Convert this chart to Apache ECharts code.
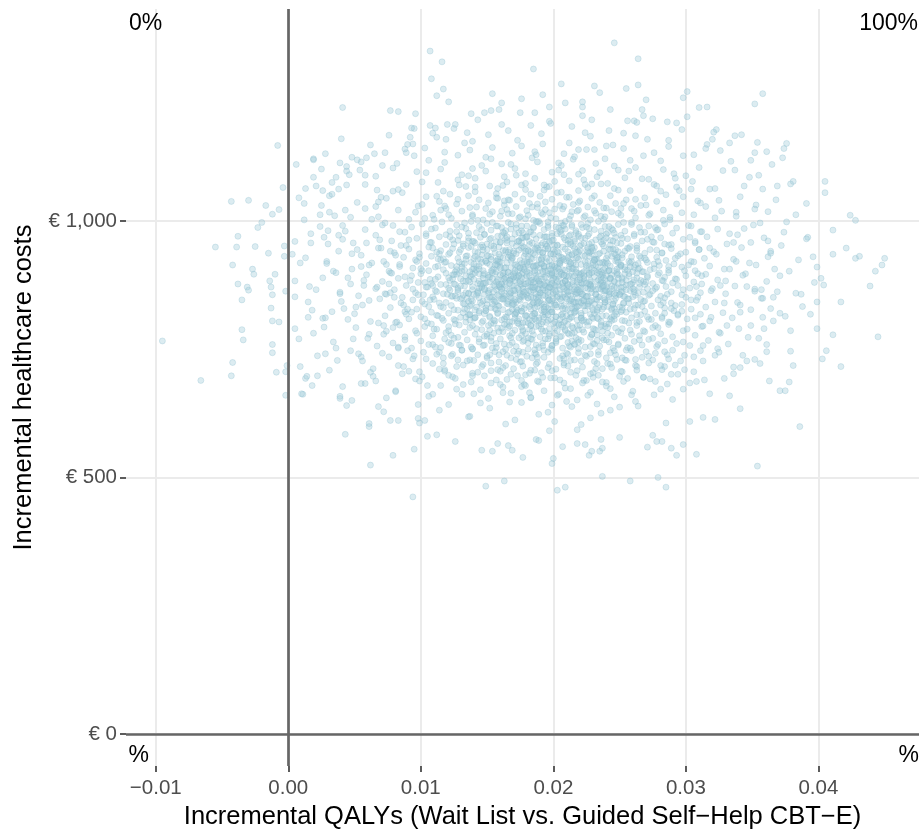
<!DOCTYPE html>
<html>
<head>
<meta charset="utf-8">
<title>Incremental cost-effectiveness plane</title>
<script src="https://cdn.jsdelivr.net/npm/echarts@6/dist/echarts.min.js"></script>
<style>
  html, body { margin: 0; padding: 0; background: #ffffff; }
  #plane { width: 919px; height: 835px; }
</style>
</head>
<body>
<div id="plane"></div>
<script>
// Bootstrap draws: [incremental QALYs, incremental healthcare costs (EUR)]

// Sparse draws around the edge of the cloud
const drawsFringe = [
  [-.0095,766],[-.0066,689],[-.0055,949],[-.0043,1038],[-.0030,1040],[-.0017,1030],[-.0007,1022],[-.0012,1013],
  [-.0004,1065],[-.0008,1147],[-.0025,950],[-.0038,970],[-.0039,949],[-.0020,997],[-.0023,987],[-.0015,937],
  [-.0042,914],[-.0027,906],[-.0026,896],[-.0038,877],[-.0031,871],[-.0030,865],[-.0035,846],[-.0014,883],
  [-.0013,871],[-.0012,856],[-.0010,896],[-.0013,830],[-.0012,805],[-.0007,803],[-.0035,788],[-.0034,768],
  [-.0012,759],[-.0012,743],[-.0042,724],[-.0043,698],[-.0009,705],[-.0002,706],[-.0001,718],[-.0002,660],
  [-.0002,863],[-.0003,951],[-.0003,931],
  [.0005,960],[.0003,935],[.0005,883],[.0005,852],[.0005,790],[.0009,716],[.0013,693],[.0011,662],
  [.0018,679],[.0022,698],[.0022,737],[.0014,697],[.0010,663],
  [.0008,1045],[.0012,1002],[.0021,1068],[.0017,975],[.0024,1012],[.0031,1049],[.0009,918],[.0015,842],
  [.0026,810],[.0030,955],[.0036,1085],[.0044,1097],[.0006,1110],[.0019,1119],[.0035,1010],[.0043,980],
  [.0008,770],[.0028,741],[.0040,1160],
  [.0246,1347],[.0107,1331],[.0116,1310],[.0264,1316],[.0185,1296],[.0108,1277],[.0206,1267],[.0264,1265],
  [.0231,1263],[.0235,1250],[.0117,1257],[.0255,1258],[.0154,1248],[.0112,1244],[.0192,1246],[.0301,1252],
  [.0358,1248],[.0352,1228],[.0298,1240],[.0176,1238],[.0121,1232],[.0270,1236],[.0222,1232],[.0222,1222],
  [.0222,1205],[.0209,1230],[.0161,1230],[.0159,1217],[.0197,1222],[.0041,1221],[.0310,1221],[.0316,1222],
  [.0243,1217],[.0077,1215],[.0083,1213],[.0096,1209],[.0175,1211],[.0186,1211],[.0138,1209],[.0148,1211],
  [.0153,1215],[.0301,1203],[.0256,1195],[.0261,1195],[.0286,1193],[.0293,1191],[.0275,1199],[.0268,1205],
  [.0267,1217],[.0323,1178],[.0320,1159],[.0316,1149],[.0337,1166],[.0342,1168],[.0376,1151],[.0374,1141],
  [.0354,1153],[.0352,1133],[.0361,1135],[.0381,1077],[.0365,1110],[.0373,1123],[.0019,1121],[.0028,1131],
  [.0039,1113],[.0044,1106],[.0055,1115],[.0059,1123],[.0065,1131],[.0019,1085],[.0026,1059],[.0033,1075],
  [.0013,1063],[.0082,1112],[.0089,1133],[.0094,1150],[.0095,1180],[.0111,1181],[.0109,1171],[.0120,1188],
  [.0126,1188],[.0090,1149],
  [.0094,462],[.0149,483],[.0163,493],[.0203,475],[.0209,481],[.0237,502],[.0258,493],[.0279,500],
  [.0285,481],[.0354,522],[.0062,524],[.0079,543],[.0095,555],[.0043,584],[.0061,599],[.0061,605],
  [.0077,611],[.0083,611],[.0105,580],[.0126,570],[.0146,553],[.0154,551],[.0166,562],[.0169,553],
  [.0177,539],[.0187,574],[.0189,572],[.0199,527],[.0200,537],[.0207,560],[.0218,566],[.0224,564],
  [.0218,593],[.0227,543],[.0229,551],[.0235,551],[.0237,557],[.0250,578],[.0275,582],[.0278,570],
  [.0282,570],[.0289,557],[.0293,543],[.0298,564],[.0308,545],[.0322,613],[.0313,617],[.0303,609],
  [.0341,634],[.0333,659],[.0371,669],[.0375,669],[.0378,686],[.0381,718],[.0363,688],[.0356,722],
  [.0346,727],[.0041,677],[.0048,650],[.0044,640],[.0039,654],[.0068,638],[.0098,615],[.0099,606],
  [.0055,683],[.0039,658],
  [.0405,1077],[.0405,1055],[.0424,1011],[.0428,1001],[.0411,982],[.0421,947],[.0428,927],[.0431,931],
  [.0450,927],[.0448,914],[.0443,902],[.0439,873],[.0445,774],[.0417,716],[.0417,842],[.0411,778],
  [.0406,747],[.0403,731],[.0386,599],[.0411,935],[.0399,910],[.0404,875],[.0399,842],[.0399,790],
  [.0368,1041],[.0383,1012],[.0392,968],[.0371,893],[.0387,857],[.0394,818],[.0366,805],[.0379,746],
  [.0361,759],[.0391,1034],[.0358,1062],[.0376,998],[.0364,941],[.0385,924],[.0372,952],[.0357,849],
  [.0369,862],[.0397,880],[.0359,790]
];

// Draws on the left and right shoulders of the cloud
const drawsShoulders = [
  [.0012,1034],[.0024,989],[.0033,1052],[.0047,1007],[.0058,1071],[.0066,1028],[.0071,992],[.0017,957],
  [.0029,921],[.0038,972],[.0052,944],[.0063,918],[.0069,963],[.0045,889],[.0021,866],[.0034,902],
  [.0057,874],[.0073,858],[.0015,812],[.0042,829],[.0061,845],[.0027,793],[.0049,770],[.0068,801],
  [.0036,752],[.0055,735],[.0072,779],[.0031,709],[.0064,697],[.0046,1090],[.0025,1101],[.0070,1046],
  [.0318,1062],[.0327,1019],[.0341,1047],[.0356,996],[.0333,975],[.0349,958],[.0362,1018],[.0321,940],
  [.0338,921],[.0345,897],[.0367,906],[.0326,874],[.0352,863],[.0339,841],[.0364,829],[.0319,812],
  [.0331,796],[.0347,773],[.0358,812],[.0324,751],[.0343,738],[.0336,702],[.0361,745],[.0328,1098],
  [.0355,1089],[.0369,1068],
  [.0043,1021],[.0059,957],[.0036,899],[.0067,871],[.0051,832],[.0072,796],[.0030,981],[.0048,936],
  [.0063,1003],[.0039,858],[.0055,911],[.0070,947],[.0025,1030],[.0061,779],[.0045,808],[.0033,823],
  [.0068,1037],[.0057,884],[.0041,964],[.0074,915],
  [.0322,1006],[.0336,958],[.0348,918],[.0330,883],[.0357,866],[.0341,822],[.0326,781],[.0362,930],
  [.0344,985],[.0353,1031],[.0318,947],[.0333,906],[.0366,851],[.0349,796],[.0320,868],[.0338,1017],
  [.0359,967],[.0329,840],[.0346,872],[.0371,820]
];

// Ring of draws above and below the dense centre
const drawsRing = [
  [.0062,1148],[.0135,1172],[.0208,1131],[.0271,1159],[.0097,1096],[.0183,1186],[.0246,1107],[.0315,1141],[.0149,1124],[.0228,1165],
  [.0086,1055],[.0171,1102],[.0292,1083],[.0119,1159],[.0201,1077],[.0263,1192],[.0044,1070],[.0337,1099],[.0158,1063],[.0239,1121],
  [.0106,1118],[.0192,1150],[.0281,1117],[.0131,1090],[.0214,1184],[.0304,1062],[.0073,1133],[.0166,1176],[.0253,1141],[.0122,1052],
  [.0188,1115],[.0326,1137],[.0143,1197],[.0235,1094],[.0058,1089],[.0176,1070],[.0297,1178],[.0112,1163],[.0219,1059],[.0268,1127],
  [.0093,1181],[.0204,1099],[.0344,1068],[.0154,1143],[.0242,1176],[.0079,1103],[.0186,1135],[.0310,1104],[.0128,1128],[.0225,1139],
  [.0067,1060],[.0161,1111],[.0276,1071],[.0139,1155],[.0198,1190],[.0257,1097],[.0101,1076],[.0232,1112],[.0321,1173],[.0173,1157],
  [.0048,1124],[.0212,1152],[.0287,1145],[.0115,1101],[.0179,1092],[.0249,1060],[.0134,1067],[.0223,1080],[.0300,1088],[.0088,1140],
  [.0195,1066],[.0262,1166],[.0146,1108],[.0333,1152],[.0107,1186],[.0240,1146],[.0169,1132],[.0215,1120],[.0283,1100],[.0125,1180],
  [.0054,1099],[.0191,1170],[.0258,1118],[.0141,1083],[.0229,1197],[.0076,1167],[.0163,1086],[.0306,1129],[.0206,1108],[.0272,1081],
  [.0118,1114],[.0184,1123],[.0349,1118],[.0151,1168],[.0236,1072],[.0095,1127],[.0219,1139],[.0295,1059],[.0137,1138],[.0253,1171],
  [.0071,742],[.0143,705],[.0219,751],[.0284,716],[.0105,679],[.0188,734],[.0256,693],[.0322,738],[.0129,758],[.0204,662],
  [.0062,705],[.0167,647],[.0241,722],[.0303,684],[.0094,731],[.0179,700],[.0270,745],[.0136,618],[.0225,689],[.0111,754],
  [.0196,627],[.0289,701],[.0152,739],[.0233,643],[.0081,669],[.0175,725],[.0259,661],[.0341,714],[.0121,699],[.0212,756],
  [.0047,747],[.0160,681],[.0248,730],[.0318,663],[.0098,642],[.0186,709],[.0277,687],[.0140,663],[.0228,741],[.0117,722],
  [.0201,694],[.0264,639],[.0154,752],[.0243,673],[.0087,716],[.0171,612],[.0296,727],[.0132,681],[.0218,708],[.0066,688],
  [.0193,748],[.0252,706],[.0148,698],[.0236,625],[.0109,662],[.0182,665],[.0311,747],[.0124,740],[.0209,674],[.0275,729],
  [.0056,727],[.0164,718],[.0226,660],[.0290,652],[.0101,696],[.0177,744],[.0262,718],[.0145,645],[.0232,712],[.0083,754],
  [.0199,641],[.0281,672],[.0158,710],[.0213,728],[.0114,631],[.0189,686],[.0329,693],[.0137,729],[.0245,752],[.0074,655],
  [.0207,737],[.0268,695],[.0162,665],[.0221,603],[.0091,707],[.0176,677],[.0299,710],[.0127,672],[.0240,685],[.0153,723],
  [.0196,714],[.0255,748],[.0118,707],[.0230,695],[.0168,733],[.0286,739],[.0139,750],[.0210,648],[.0250,637],[.0183,655]
];

// Draws with costs of EUR 1,000 and above
const drawsHighCost = [
  [.0092,1163],[.0161,1188],[.0224,1172],[.0287,1157],[.0197,1194],[.0133,1152],
  [.0071,1108],[.0118,1134],[.0153,1121],[.0176,1146],[.0204,1113],[.0231,1139],[.0262,1104],[.0298,1127],
  [.0139,1102],[.0187,1129],[.0245,1148],[.0103,1142],[.0216,1125],[.0334,1116],[.0168,1110],[.0276,1133],[.0052,1119],
  [.0038,1062],[.0066,1087],[.0089,1071],[.0104,1094],[.0117,1058],[.0128,1080],[.0141,1066],[.0149,1097],
  [.0157,1053],[.0165,1076],[.0172,1089],[.0179,1061],[.0186,1083],[.0193,1070],[.0199,1095],[.0206,1056],
  [.0212,1078],[.0219,1091],[.0226,1065],[.0233,1086],[.0241,1073],[.0249,1099],[.0258,1059],[.0267,1082],
  [.0278,1068],[.0291,1092],[.0305,1077],[.0322,1063],[.0348,1085],[.0136,1088],[.0183,1052],[.0222,1098],
  [.0113,1075],[.0254,1084],[.0162,1069],[.0208,1090],[.0079,1058],[.0285,1051],[.0379,1072],
  [.0031,1017],[.0052,1036],[.0068,1008],[.0074,1044],[.0083,1021],[.0091,1003],[.0098,1029],[.0104,1047],
  [.0109,1011],[.0114,1038],[.0119,1024],[.0123,1005],[.0127,1033],[.0131,1019],[.0136,1049],[.0139,1012],
  [.0142,1027],[.0144,1041],[.0147,1002],[.0151,1035],[.0154,1018],[.0157,1045],[.0160,1009],[.0163,1031],
  [.0165,1022],[.0167,1040],[.0169,1014],[.0172,1028],[.0174,1006],[.0177,1043],[.0180,1020],[.0182,1034],
  [.0185,1001],[.0188,1026],[.0190,1048],[.0192,1013],[.0194,1037],[.0197,1016],[.0199,1042],[.0202,1004],
  [.0205,1030],[.0207,1023],[.0210,1046],[.0213,1010],[.0215,1032],[.0218,1019],[.0220,1039],[.0223,1007],
  [.0226,1027],[.0229,1044],[.0232,1015],[.0235,1036],[.0238,1003],[.0240,1025],[.0243,1049],[.0244,1018],
  [.0247,1034],[.0251,1011],[.0255,1041],[.0259,1024],[.0262,1006],[.0266,1030],[.0269,1045],[.0273,1014],
  [.0278,1038],[.0283,1021],[.0288,1002],[.0293,1033],[.0298,1047],[.0306,1012],[.0315,1028],[.0325,1040],
  [.0338,1009],[.0352,1023],[.0058,1024],[.0128,1042],[.0236,1009],[.0311,1035]
];

// Draws between EUR 950 and 1,000
const draws950 = [
  [.0027,968],[.0041,991],[.0049,957],[.0058,983],[.0066,972],[.0073,996],[.0078,961],[.0084,979],
  [.0089,952],[.0093,988],[.0097,966],[.0101,994],[.0104,975],[.0108,958],[.0111,986],[.0114,969],
  [.0116,998],[.0119,954],[.0122,980],[.0124,963],[.0127,992],[.0129,971],[.0132,955],[.0134,985],
  [.0136,967],[.0138,999],[.0140,960],[.0142,977],[.0144,989],[.0146,953],[.0148,973],[.0150,995],
  [.0152,964],[.0153,982],[.0155,951],[.0157,990],[.0158,970],[.0160,959],[.0161,987],[.0163,976],
  [.0165,962],[.0166,997],[.0168,984],[.0169,956],[.0171,974],[.0172,993],[.0174,961],[.0176,981],
  [.0177,950],[.0179,968],[.0180,990],[.0182,978],[.0184,957],[.0185,986],[.0187,965],[.0188,998],
  [.0190,972],[.0191,953],[.0193,983],[.0194,969],[.0196,991],[.0197,958],[.0199,976],[.0200,963],
  [.0202,988],[.0203,952],[.0205,979],[.0206,996],[.0208,967],[.0209,984],[.0211,955],[.0213,973],
  [.0214,992],[.0216,960],[.0217,981],[.0219,970],[.0221,954],[.0222,987],[.0224,966],[.0226,995],
  [.0227,975],[.0229,958],[.0231,983],[.0232,963],[.0234,999],[.0236,971],[.0238,951],[.0239,989],
  [.0241,977],[.0243,962],[.0244,985],[.0247,968],[.0249,993],[.0251,956],[.0254,980],[.0256,965],
  [.0259,997],[.0261,974],[.0263,952],[.0265,987],[.0267,961],[.0269,978],[.0272,990],[.0275,959],
  [.0278,982],[.0281,967],[.0284,994],[.0287,953],[.0290,976],[.0293,986],[.0298,964],[.0302,991],
  [.0307,957],[.0311,979],[.0316,969],[.0324,984],[.0331,955],[.0339,973],[.0351,992],[.0362,961],
  [.0374,978],[.0391,965],[.0176,967],[.0214,989]
];

// Draws between EUR 900 and 950
const draws900 = [
  [.0029,917],[.0038,941],[.0013,928],[.0048,906],[.0055,933],[.0061,914],[.0068,947],[.0072,921],
  [.0076,902],[.0080,938],[.0084,911],[.0087,929],[.0091,945],[.0094,908],[.0096,924],[.0099,936],
  [.0101,903],[.0104,917],[.0106,949],[.0108,931],[.0111,910],[.0113,926],[.0115,942],[.0117,905],
  [.0119,920],[.0121,935],[.0123,913],[.0124,946],[.0126,901],[.0128,927],[.0129,939],[.0131,916],
  [.0133,904],[.0135,932],[.0136,948],[.0138,919],[.0140,907],[.0141,940],[.0143,925],[.0144,912],
  [.0146,934],[.0147,903],[.0149,921],[.0150,944],[.0152,915],[.0153,930],[.0155,906],[.0156,938],
  [.0157,922],[.0159,949],[.0160,911],[.0162,928],[.0163,900],[.0164,943],[.0165,918],[.0167,933],
  [.0168,909],[.0169,926],[.0170,941],[.0171,914],[.0172,936],[.0173,902],[.0175,923],[.0176,947],
  [.0177,910],[.0178,931],[.0180,919],[.0181,942],[.0182,905],[.0183,927],[.0185,937],[.0186,913],
  [.0187,948],[.0188,901],[.0189,924],[.0190,939],[.0191,916],[.0192,930],[.0193,908],[.0194,945],
  [.0195,920],[.0196,903],[.0198,935],[.0199,912],[.0200,944],[.0201,926],[.0202,907],[.0204,938],
  [.0205,917],[.0206,929],[.0207,949],[.0209,904],[.0210,922],[.0211,940],[.0212,911],[.0214,933],
  [.0215,918],[.0216,946],[.0217,906],[.0218,928],[.0219,939],[.0221,915],[.0222,932],[.0223,901],
  [.0225,943],[.0226,921],[.0227,909],[.0229,936],[.0230,914],[.0231,948],[.0233,925],[.0234,903],
  [.0235,937],[.0237,919],[.0238,941],[.0239,908],[.0240,927],[.0242,945],[.0243,912],[.0244,931],
  [.0246,902],[.0248,924],[.0249,940],[.0251,913],[.0252,934],[.0254,905],[.0256,947],[.0257,921],
  [.0259,930],[.0261,909],[.0263,942],[.0264,917],[.0266,928],[.0267,901],[.0269,937],[.0271,919],
  [.0273,944],[.0276,907],[.0278,929],[.0280,913],[.0282,938],[.0285,923],[.0287,904],[.0289,946],
  [.0291,916],[.0294,932],[.0297,910],[.0300,939],[.0304,921],[.0307,903],[.0310,944],[.0314,927],
  [.0318,912],[.0323,935],[.0329,906],[.0336,925],[.0342,948],[.0353,914],[.0364,937],[.0378,902],
  [.0396,930],[.0158,913],[.0228,940]
];

// Draws between EUR 850 and 900
const draws850 = [
  [.0016,872],[.0026,889],[.0039,861],[.0047,877],[.0053,854],[.0059,895],[.0066,868],[.0071,882],
  [.0074,857],[.0077,899],[.0080,866],[.0083,888],[.0086,851],[.0089,874],[.0093,893],[.0096,860],
  [.0098,880],[.0100,897],[.0102,856],[.0105,871],[.0107,886],[.0109,852],[.0111,864],[.0113,891],
  [.0115,876],[.0117,858],[.0119,898],[.0121,869],[.0122,884],[.0124,853],[.0125,877],[.0127,896],
  [.0128,862],[.0130,887],[.0131,850],[.0133,873],[.0134,892],[.0136,859],[.0137,881],[.0139,866],
  [.0141,899],[.0142,855],[.0144,883],[.0146,870],[.0147,894],[.0148,857],[.0149,879],[.0151,863],
  [.0152,890],[.0153,851],[.0155,875],[.0156,897],[.0157,866],[.0158,884],[.0159,854],[.0160,872],
  [.0162,893],[.0163,860],[.0164,881],[.0165,868],[.0166,899],[.0167,852],[.0168,886],[.0169,874],
  [.0171,858],[.0172,891],[.0173,869],[.0174,880],[.0175,853],[.0176,896],[.0177,864],[.0178,877],
  [.0179,888],[.0180,856],[.0181,873],[.0182,898],[.0183,862],[.0184,885],[.0185,850],[.0186,871],
  [.0187,894],[.0188,867],[.0189,882],[.0190,859],[.0191,876],[.0193,890],[.0194,865],[.0195,879],
  [.0196,855],[.0197,897],[.0198,870],[.0199,884],[.0200,861],[.0201,892],[.0202,874],[.0203,851],
  [.0204,887],[.0205,866],[.0206,899],[.0207,878],[.0208,857],[.0209,883],[.0210,869],[.0212,893],
  [.0213,854],[.0214,876],[.0215,889],[.0216,862],[.0218,880],[.0219,871],[.0220,895],[.0221,858],
  [.0222,877],[.0223,886],[.0225,853],[.0226,868],[.0227,898],[.0228,874],[.0229,860],[.0231,891],
  [.0232,866],[.0233,882],[.0234,851],[.0236,879],[.0237,894],[.0238,863],[.0239,885],[.0240,872],
  [.0242,856],[.0243,889],[.0244,867],[.0246,881],[.0248,859],[.0249,896],[.0251,870],[.0252,886],
  [.0254,852],[.0255,875],[.0257,892],[.0258,864],[.0260,880],[.0262,855],[.0263,898],[.0265,871],
  [.0266,884],[.0268,861],[.0269,876],[.0271,890],[.0273,857],[.0275,878],[.0277,868],[.0279,895],
  [.0281,853],[.0283,883],[.0285,872],[.0287,899],[.0289,862],[.0292,887],[.0294,874],[.0297,856],
  [.0300,893],[.0303,869],[.0306,881],[.0309,851],[.0312,877],[.0315,896],[.0319,864],[.0324,885],
  [.0330,858],[.0337,873],[.0343,894],[.0352,867],[.0361,882],[.0383,859],[.0402,888],[.0161,877],
  [.0217,861]
];

// Draws between EUR 800 and 850
const draws800 = [
  [.0018,826],[.0028,811],[.0040,843],[.0050,819],[.0056,836],[.0062,804],[.0069,848],[.0073,815],
  [.0077,831],[.0081,802],[.0085,840],[.0088,823],[.0091,809],[.0094,846],[.0097,828],[.0100,813],
  [.0103,838],[.0105,801],[.0108,822],[.0110,847],[.0112,816],[.0115,833],[.0117,806],[.0119,841],
  [.0121,820],[.0123,835],[.0125,808],[.0127,849],[.0128,826],[.0130,812],[.0132,839],[.0134,803],
  [.0135,829],[.0137,817],[.0139,844],[.0140,810],[.0142,832],[.0144,821],[.0146,837],[.0147,805],
  [.0149,825],[.0150,846],[.0152,814],[.0153,831],[.0155,800],[.0156,842],[.0158,819],[.0159,834],
  [.0161,807],[.0162,827],[.0163,848],[.0165,812],[.0166,838],[.0167,823],[.0169,804],[.0170,843],
  [.0171,818],[.0172,830],[.0174,809],[.0175,845],[.0176,824],[.0177,801],[.0179,836],[.0180,815],
  [.0181,849],[.0183,828],[.0184,806],[.0185,840],[.0186,820],[.0188,833],[.0189,811],[.0190,844],
  [.0191,826],[.0192,803],[.0193,837],[.0194,817],[.0196,829],[.0197,846],[.0198,808],[.0199,822],
  [.0201,839],[.0202,813],[.0203,832],[.0204,800],[.0205,848],[.0207,819],[.0208,835],[.0209,805],
  [.0211,827],[.0212,843],[.0213,812],[.0214,830],[.0216,821],[.0217,841],[.0218,807],[.0219,834],
  [.0221,816],[.0222,845],[.0224,825],[.0225,803],[.0226,838],[.0228,818],[.0229,831],[.0230,810],
  [.0232,847],[.0233,823],[.0235,836],[.0236,804],[.0237,828],[.0239,842],[.0240,815],[.0241,833],
  [.0243,809],[.0244,826],[.0246,844],[.0248,818],[.0250,832],[.0252,806],[.0253,839],[.0255,822],
  [.0257,848],[.0259,811],[.0261,829],[.0263,802],[.0264,836],[.0266,817],[.0268,843],[.0269,824],
  [.0272,808],[.0274,834],[.0277,820],[.0279,846],[.0282,813],[.0284,830],[.0287,803],[.0289,840],
  [.0291,825],[.0294,816],[.0297,837],[.0301,809],[.0304,828],[.0308,845],[.0311,818],[.0315,832],
  [.0318,805],[.0322,842],[.0328,821],[.0335,811],[.0341,836],[.0349,827],[.0358,849],[.0375,814],
  [.0388,833],[.0186,809],[.0228,843]
];

// Draws between EUR 750 and 800
const draws750 = [
  [.0019,781],[.0034,764],[.0051,792],[.0060,771],[.0067,756],[.0074,785],[.0079,762],[.0084,797],
  [.0088,774],[.0093,752],[.0097,781],[.0100,766],[.0103,794],[.0106,759],[.0109,776],[.0112,789],
  [.0115,753],[.0118,770],[.0121,786],[.0123,761],[.0126,799],[.0128,773],[.0130,757],[.0133,783],
  [.0135,768],[.0137,792],[.0139,751],[.0141,779],[.0144,764],[.0146,788],[.0148,758],[.0150,775],
  [.0151,796],[.0153,766],[.0155,781],[.0157,753],[.0158,791],[.0160,770],[.0162,784],[.0163,760],
  [.0165,798],[.0167,776],[.0169,763],[.0171,787],[.0172,755],[.0174,772],[.0176,793],[.0177,765],
  [.0179,780],[.0181,750],[.0182,789],[.0184,769],[.0185,778],[.0187,758],[.0189,795],[.0190,774],
  [.0192,762],[.0194,785],[.0196,770],[.0197,790],[.0199,757],[.0201,781],[.0202,766],[.0204,797],
  [.0206,775],[.0207,752],[.0209,786],[.0211,763],[.0212,779],[.0214,794],[.0216,759],[.0217,772],
  [.0219,788],[.0221,767],[.0223,783],[.0224,754],[.0226,796],[.0228,773],[.0230,761],[.0231,789],
  [.0233,778],[.0235,756],[.0237,785],[.0238,768],[.0240,799],[.0242,764],[.0244,777],[.0247,791],
  [.0249,760],[.0251,782],[.0254,771],[.0256,753],[.0258,787],[.0261,765],[.0263,796],[.0265,776],
  [.0267,758],[.0269,784],[.0272,769],[.0275,792],[.0278,755],[.0281,780],[.0284,766],[.0287,798],
  [.0290,774],[.0293,761],[.0298,786],[.0303,757],[.0307,777],[.0312,794],[.0317,767],[.0325,783],
  [.0332,760],[.0340,790],[.0355,771],[.0379,786]
];

// Draws below EUR 750
const drawsLowCost = [
  [.0037,728],[.0053,741],[.0064,712],[.0076,735],[.0083,718],[.0090,747],[.0099,706],[.0104,731],
  [.0109,722],[.0114,744],[.0118,710],[.0123,737],[.0127,716],[.0131,748],[.0135,727],[.0139,703],
  [.0143,739],[.0147,720],[.0150,733],[.0153,708],[.0156,745],[.0159,725],[.0162,714],[.0165,738],
  [.0168,701],[.0172,730],[.0174,746],[.0177,717],[.0180,736],[.0183,709],[.0186,742],[.0188,724],
  [.0191,704],[.0193,734],[.0197,721],[.0199,749],[.0202,711],[.0205,732],[.0208,719],[.0211,740],
  [.0213,705],[.0216,729],[.0219,743],[.0222,715],[.0225,736],[.0228,702],[.0231,726],[.0234,745],
  [.0237,712],[.0240,733],[.0243,721],[.0247,739],[.0251,707],[.0255,728],[.0259,747],[.0263,716],
  [.0267,734],[.0272,723],[.0277,742],[.0282,710],[.0287,731],[.0292,719],[.0299,738],[.0306,706],
  [.0313,727],[.0325,744],[.0336,715],[.0352,730],
  [.0058,683],[.0081,667],[.0096,692],[.0106,658],[.0115,679],[.0124,696],[.0131,662],[.0138,686],
  [.0145,671],[.0151,654],[.0157,690],[.0162,676],[.0168,664],[.0173,698],[.0178,681],[.0183,656],
  [.0188,688],[.0193,669],[.0198,694],[.0203,660],[.0208,684],[.0213,673],[.0218,651],[.0223,689],
  [.0228,666],[.0234,699],[.0240,678],[.0246,657],[.0253,687],[.0260,668],[.0268,695],[.0276,661],
  [.0286,682],[.0298,672],[.0314,690],
  [.0072,628],[.0103,611],[.0121,642],[.0137,619],[.0152,635],[.0164,604],[.0176,646],[.0189,623],
  [.0201,609],[.0214,638],[.0228,616],[.0243,631],[.0262,648],[.0285,606],
  [.0112,583],[.0158,566],[.0197,591],[.0236,574],[.0271,559]
];

// Dense centre of the cloud (QALY 0.0075-0.0315, EUR 675-1,075)
const drawsCoreDense = [
  [.0083,1061],[.0101,1032],[.0112,1048],[.0129,1070],[.0118,1029],[.0141,1057],[.0163,1039],[.0137,1026],
  [.0152,1068],[.0158,1044],[.0171,1052],[.0188,1033],[.0179,1073],[.0193,1060],[.0166,1041],[.0184,1027],
  [.0203,1055],[.0219,1036],[.0197,1067],[.0212,1046],[.0224,1071],[.0208,1028],[.0231,1049],[.0246,1063],
  [.0253,1034],[.0238,1025],[.0229,1072],[.0262,1042],[.0281,1058],[.0270,1031],[.0293,1066],[.0309,1039],
  [.0079,991],[.0096,1017],[.0088,978],[.0103,1005],[.0108,984],[.0121,1012],[.0133,996],[.0115,1021],
  [.0127,979],[.0110,1003],[.0131,988],[.0139,1009],[.0146,983],[.0161,1019],[.0154,997],[.0136,976],
  [.0149,1024],[.0158,990],[.0143,1001],[.0164,981],[.0152,1013],[.0168,994],[.0175,1008],[.0183,979],
  [.0191,1016],[.0172,986],[.0187,999],[.0194,1022],[.0179,1004],[.0166,1014],[.0185,988],[.0177,977],
  [.0190,995],[.0181,1011],[.0198,1006],[.0206,982],[.0214,1018],[.0221,993],[.0201,1023],[.0217,977],
  [.0209,999],[.0224,1010],[.0196,987],[.0212,1003],[.0203,975],[.0219,1021],[.0207,991],[.0228,1002],
  [.0236,980],[.0249,1015],[.0242,989],[.0231,1020],[.0253,997],[.0239,1008],[.0246,976],[.0227,985],
  [.0251,1024],[.0259,993],[.0272,1011],[.0266,978],[.0283,1001],[.0277,987],[.0261,1019],[.0279,983],
  [.0288,1007],[.0304,990],[.0297,1016],[.0312,979],
  [.0077,941],[.0091,963],[.0099,929],[.0085,952],[.0104,971],[.0081,933],[.0107,958],[.0114,936],
  [.0122,969],[.0130,944],[.0117,926],[.0125,955],[.0109,947],[.0134,931],[.0119,973],[.0128,962],
  [.0112,939],[.0138,950],[.0145,968],[.0151,932],[.0157,959],[.0162,942],[.0140,927],[.0148,974],
  [.0155,946],[.0136,961],[.0159,935],[.0164,966],[.0143,938],[.0150,955],[.0153,925],[.0147,949],
  [.0161,971],[.0141,957],[.0167,944],[.0174,961],[.0181,930],[.0188,952],[.0193,969],[.0170,937],
  [.0178,948],[.0185,973],[.0191,926],[.0176,958],[.0183,940],[.0194,955],[.0169,965],[.0186,934],
  [.0172,951],[.0180,970],[.0189,943],[.0166,929],[.0182,960],[.0192,938],[.0177,967],[.0196,947],
  [.0204,931],[.0211,962],[.0218,940],[.0223,956],[.0199,970],[.0207,928],[.0215,951],[.0221,967],
  [.0201,939],[.0213,958],[.0209,945],[.0224,932],[.0197,960],[.0206,974],[.0217,927],[.0203,953],
  [.0220,943],[.0212,971],[.0200,935],[.0216,964],[.0229,949],[.0235,968],[.0241,933],[.0248,957],
  [.0254,941],[.0232,926],[.0238,962],[.0245,945],[.0251,972],[.0227,938],[.0243,953],[.0249,929],
  [.0236,959],[.0252,966],[.0230,942],[.0240,974],[.0246,936],[.0258,950],[.0265,931],[.0271,964],
  [.0278,943],[.0284,955],[.0261,971],[.0269,927],[.0276,958],[.0282,937],[.0263,947],[.0274,969],
  [.0289,954],[.0296,936],[.0303,968],[.0310,944],[.0292,927],[.0307,960],
  [.0078,898],[.0084,915],[.0092,884],[.0100,907],[.0076,877],[.0097,921],[.0088,891],[.0103,880],
  [.0106,903],[.0111,886],[.0118,919],[.0124,895],[.0131,910],[.0108,878],[.0115,924],[.0121,889],
  [.0127,905],[.0134,882],[.0113,912],[.0129,899],[.0119,876],[.0133,917],[.0137,893],[.0142,911],
  [.0148,879],[.0153,902],[.0159,920],[.0163,887],[.0139,906],[.0145,925],[.0151,890],[.0156,914],
  [.0161,876],[.0136,884],[.0144,897],[.0150,918],[.0157,881],[.0164,909],[.0140,916],[.0147,888],
  [.0154,904],[.0160,895],[.0143,878],[.0158,922],[.0166,900],[.0171,884],[.0176,917],[.0180,893],
  [.0185,910],[.0190,878],[.0194,902],[.0168,923],[.0173,889],[.0178,906],[.0183,881],[.0188,914],
  [.0192,896],[.0167,885],[.0175,908],[.0182,920],[.0187,887],[.0193,911],[.0170,897],[.0179,877],
  [.0186,903],[.0191,924],[.0174,892],[.0181,915],[.0189,883],[.0177,899],[.0197,912],[.0202,886],
  [.0207,905],[.0212,921],[.0216,893],[.0221,879],[.0225,908],[.0199,895],[.0204,918],[.0209,882],
  [.0214,901],[.0219,925],[.0223,888],[.0196,880],[.0201,904],[.0206,923],[.0211,890],[.0217,914],
  [.0222,898],[.0198,876],[.0203,909],[.0208,894],[.0213,916],[.0218,884],[.0224,920],[.0205,900],
  [.0227,896],[.0232,913],[.0237,880],[.0242,904],[.0247,922],[.0252,889],[.0229,907],[.0234,885],
  [.0239,917],[.0244,895],[.0249,878],[.0254,910],[.0231,924],[.0236,891],[.0241,902],[.0246,883],
  [.0251,915],[.0228,881],[.0233,899],[.0238,919],[.0243,887],[.0248,906],[.0257,897],[.0262,914],
  [.0268,882],[.0273,905],[.0279,921],[.0284,890],[.0259,877],[.0265,908],[.0271,893],[.0276,916],
  [.0282,884],[.0260,901],[.0270,924],[.0280,899],[.0287,911],[.0293,886],[.0299,903],[.0306,920],
  [.0312,893],[.0290,879],[.0302,914],[.0309,897],
  [.0080,851],[.0087,836],[.0094,867],[.0101,843],[.0077,860],[.0090,828],[.0098,856],[.0104,871],
  [.0107,846],[.0112,862],[.0117,831],[.0123,853],[.0128,869],[.0133,838],[.0109,874],[.0114,840],
  [.0120,857],[.0125,827],[.0130,848],[.0106,833],[.0122,865],[.0132,855],[.0138,847],[.0143,863],
  [.0149,830],[.0154,852],[.0160,870],[.0165,839],[.0136,858],[.0141,826],[.0147,844],[.0152,866],
  [.0158,835],[.0163,854],[.0139,872],[.0145,841],[.0151,859],[.0156,829],[.0162,849],[.0137,834],
  [.0148,868],[.0155,845],[.0161,861],[.0144,850],[.0167,857],[.0172,842],[.0177,868],[.0182,833],
  [.0187,851],[.0192,866],[.0169,828],[.0174,847],[.0179,862],[.0184,837],[.0189,855],[.0194,873],
  [.0166,843],[.0171,864],[.0176,831],[.0181,850],[.0186,869],[.0191,839],[.0168,860],[.0173,826],
  [.0178,853],[.0183,871],[.0188,845],[.0193,832],[.0175,858],[.0185,841],[.0196,849],[.0201,865],
  [.0206,834],[.0211,856],[.0216,872],[.0221,840],[.0198,827],[.0203,853],[.0208,868],[.0213,838],
  [.0218,859],[.0223,846],[.0197,870],[.0202,836],[.0207,851],[.0212,863],[.0217,830],[.0222,857],
  [.0199,844],[.0204,874],[.0209,829],[.0214,848],[.0219,866],[.0224,835],[.0200,858],[.0215,842],
  [.0226,854],[.0231,838],[.0236,867],[.0241,845],[.0246,829],[.0251,861],[.0228,873],[.0233,847],
  [.0238,832],[.0243,858],[.0248,870],[.0253,840],[.0230,826],[.0235,852],[.0240,864],[.0245,837],
  [.0250,856],[.0227,843],[.0237,871],[.0247,849],[.0252,831],[.0242,862],[.0256,848],[.0261,866],
  [.0267,833],[.0272,855],[.0278,871],[.0283,841],[.0258,828],[.0264,859],[.0269,844],[.0275,864],
  [.0281,836],[.0260,852],[.0271,868],[.0284,850],[.0286,857],[.0292,835],[.0298,866],[.0304,846],
  [.0311,860],[.0289,829],[.0300,851],[.0308,872],
  [.0082,803],[.0089,818],[.0096,786],[.0103,809],[.0079,792],[.0093,822],[.0108,799],[.0113,815],
  [.0119,782],[.0126,806],[.0132,821],[.0110,789],[.0116,810],[.0123,777],[.0129,797],[.0134,812],
  [.0121,794],[.0137,807],[.0142,790],[.0148,819],[.0153,800],[.0159,784],[.0164,813],[.0139,796],
  [.0144,824],[.0150,779],[.0156,805],[.0161,791],[.0136,817],[.0146,802],[.0152,787],[.0158,821],
  [.0163,798],[.0141,811],[.0167,803],[.0172,820],[.0177,788],[.0182,808],[.0187,794],[.0192,816],
  [.0169,781],[.0174,799],[.0179,814],[.0184,785],[.0189,806],[.0194,823],[.0166,792],[.0171,810],
  [.0176,777],[.0181,801],[.0186,819],[.0191,789],[.0173,805],[.0183,796],[.0193,812],[.0196,806],
  [.0201,791],[.0206,817],[.0211,798],[.0216,783],[.0221,811],[.0198,822],[.0203,786],[.0208,802],
  [.0213,820],[.0218,795],[.0223,807],[.0197,780],[.0202,813],[.0207,793],[.0212,809],[.0217,824],
  [.0222,788],[.0200,800],[.0210,815],[.0220,797],[.0227,804],[.0232,787],[.0237,815],[.0242,799],
  [.0247,822],[.0252,790],[.0229,778],[.0234,809],[.0239,794],[.0244,812],[.0249,784],[.0254,805],
  [.0231,819],[.0236,797],[.0241,781],[.0246,808],[.0251,823],[.0257,801],[.0263,817],[.0268,786],
  [.0274,808],[.0279,792],[.0284,820],[.0259,779],[.0265,804],[.0271,813],[.0277,796],[.0282,810],
  [.0288,802],[.0294,818],[.0301,789],[.0307,811],[.0313,795],[.0297,824],
  [.0083,752],[.0095,737],[.0088,768],[.0102,744],[.0109,759],[.0117,733],[.0125,771],[.0131,748],
  [.0112,740],[.0121,763],[.0128,729],[.0138,754],[.0144,770],[.0150,736],[.0157,761],[.0162,745],
  [.0140,728],[.0147,757],[.0153,773],[.0159,739],[.0164,750],[.0167,758],[.0173,741],[.0178,767],
  [.0184,733],[.0189,753],[.0194,770],[.0170,746],[.0176,726],[.0181,762],[.0187,740],[.0192,756],
  [.0168,772],[.0186,749],[.0196,744],[.0202,763],[.0208,731],[.0213,754],[.0219,769],[.0224,738],
  [.0199,757],[.0205,774],[.0210,742],[.0216,760],[.0221,727],[.0198,751],[.0214,766],[.0228,755],
  [.0234,739],[.0240,768],[.0246,747],[.0252,733],[.0231,760],[.0237,772],[.0243,743],[.0249,758],
  [.0254,729],[.0258,752],[.0265,768],[.0272,736],[.0279,759],[.0284,745],[.0262,730],[.0275,771],
  [.0290,748],[.0298,764],[.0306,735],[.0313,757],
  [.0086,702],[.0099,688],[.0114,711],[.0126,693],[.0132,719],[.0139,698],[.0146,716],[.0153,684],
  [.0160,707],[.0165,691],[.0170,712],[.0176,689],[.0182,703],[.0187,721],[.0192,695],[.0179,679],
  [.0199,708],[.0205,690],[.0211,717],[.0217,699],[.0222,684],[.0208,723],[.0230,704],[.0237,686],
  [.0244,714],[.0250,697],[.0233,722],[.0263,709],[.0273,692],[.0281,718],[.0294,701],[.0308,687]
];

// Innermost draws (QALY 0.012-0.027, EUR 765-1,000)
const drawsInner = [
  [.0187,912],[.0143,861],[.0229,947],[.0201,803],[.0162,978],[.0255,884],[.0178,829],[.0216,866],[.0134,925],[.0241,792],
  [.0195,951],[.0169,887],[.0223,834],[.0152,812],[.0208,991],[.0264,906],[.0181,772],[.0237,873],[.0126,854],[.0198,838],
  [.0174,943],[.0219,898],[.0157,827],[.0245,961],[.0192,869],[.0138,891],[.0211,781],[.0266,847],[.0184,926],[.0229,812],
  [.0163,908],[.0201,952],[.0148,775],[.0236,901],[.0177,856],[.0252,826],[.0122,938],[.0207,879],[.0189,999],[.0171,818],
  [.0214,935],[.0159,872],[.0247,855],[.0183,796],[.0131,902],[.0226,971],[.0196,844],[.0168,931],[.0258,918],[.0205,808],
  [.0145,949],[.0239,863],[.0176,889],[.0219,763],[.0191,917],[.0154,838],[.0270,881],[.0199,897],[.0137,818],[.0231,925],
  [.0165,957],[.0209,851],[.0186,882],[.0243,944],[.0128,866],[.0221,897],[.0173,801],[.0261,862],[.0197,923],[.0151,894],
  [.0234,831],[.0180,968],[.0214,812],[.0140,857],[.0248,899],[.0192,785],[.0160,920],[.0227,877],[.0203,940],[.0171,846],
  [.0225,988],[.0182,864],[.0146,919],[.0239,841],[.0199,878],[.0167,795],[.0252,928],[.0212,906],[.0132,883],[.0188,947],
  [.0233,767],[.0175,909],[.0217,858],[.0156,873],[.0246,815],[.0194,832],[.0139,960],[.0228,884],[.0206,797],[.0179,936],
  [.0161,848],[.0244,873],[.0190,908],[.0220,951],[.0149,825],[.0268,901],[.0202,862],[.0170,891],[.0235,918],[.0185,819],
  [.0124,887],[.0213,845],[.0195,969],[.0253,853],[.0164,940],[.0230,790],[.0178,861],[.0208,925],[.0142,904],[.0257,946],
  [.0183,884],[.0216,829],[.0153,966],[.0237,897],[.0197,776],[.0172,915],[.0260,868],[.0204,893],[.0135,849],[.0226,940],
  [.0189,851],[.0158,886],[.0244,806],[.0211,877],[.0176,990],[.0232,857],[.0147,878],[.0199,914],[.0222,805],[.0167,863],
  [.0206,896],[.0193,823],[.0240,921],[.0157,901],[.0218,866],[.0181,942],[.0130,873],[.0249,888],[.0169,840],[.0225,913],
  [.0202,770],[.0186,899],[.0150,932],[.0262,836],[.0213,954],[.0176,876],[.0238,849],[.0194,890],[.0141,812],[.0229,868],
  [.0192,957],[.0155,862],[.0235,876],[.0179,803],[.0217,939],[.0163,887],[.0250,910],[.0200,849],[.0127,911],[.0221,820],
  [.0184,870],[.0245,982],[.0169,928],[.0209,788],[.0144,869],[.0231,903],[.0196,817],[.0258,876],[.0173,959],[.0215,882],
  [.0188,839],[.0227,895],[.0160,908],[.0242,852],[.0205,921],[.0174,866],[.0138,837],[.0219,974],[.0191,887],[.0254,897],
  [.0166,821],[.0233,826],[.0198,936],[.0152,881],[.0211,862],[.0180,917],[.0247,944],[.0125,895],[.0222,857],[.0187,806],
  [.0203,881],[.0171,899],[.0236,794],[.0147,943],[.0214,907],[.0190,860],[.0259,921],[.0177,785],[.0224,869],[.0158,856],
  [.0243,888],[.0196,998],[.0133,828],[.0230,919],[.0185,880],[.0165,969],[.0218,833],[.0252,863],[.0199,823],[.0148,897],
  [.0175,877],[.0238,905],[.0206,845],[.0160,930],[.0225,852],[.0193,912],[.0143,859],[.0265,878],[.0210,893],[.0182,954],
  [.0229,779],[.0168,850],[.0248,928],[.0197,871],[.0129,920],[.0220,885],[.0186,831],[.0240,967],[.0155,807],[.0213,919],
  [.0189,866],[.0234,935],[.0164,874],[.0207,813],[.0250,857],[.0178,905],[.0223,893],[.0140,886],[.0196,945],[.0216,842],
  [.0172,822],[.0256,904],[.0201,874],[.0153,952],[.0228,867],[.0183,770],[.0245,838],[.0209,963],[.0136,843],[.0192,901],
  [.0218,849],[.0157,915],[.0241,878],[.0187,858],[.0204,986],[.0169,836],[.0231,923],[.0195,802],[.0146,872],[.0263,889],
  [.0212,871],[.0179,941],[.0226,834],[.0162,898],[.0237,955],[.0200,888],[.0132,951],[.0221,810],[.0190,876],[.0251,913],
  [.0167,884],[.0211,928],[.0184,815],[.0246,870],[.0150,837],[.0229,899],[.0194,854],[.0174,977],[.0239,846],[.0205,917],
  [.0139,896],[.0220,862],[.0182,893],[.0257,840],[.0158,925],[.0215,791],[.0198,906],[.0236,884],[.0170,873],[.0226,948],
  [.0193,828],[.0144,906],[.0232,857],[.0208,894],[.0176,852],[.0249,919],[.0214,781],[.0185,912],[.0161,867],[.0240,893],
  [.0199,962],[.0126,876],[.0223,844],[.0181,880],[.0253,871],[.0166,939],[.0210,848],[.0234,910],[.0191,799],[.0154,887],
  [.0228,876],[.0173,911],[.0196,868],[.0244,829],[.0159,876],[.0217,900],[.0186,945],[.0134,860],[.0238,889],[.0201,836],
  [.0168,893],[.0255,866],[.0212,933],[.0179,816],[.0225,879],[.0149,922],[.0192,855],[.0242,903],[.0207,871],[.0163,809],
  [.0180,901],[.0221,869],[.0152,851],[.0247,934],[.0198,894],[.0170,865],[.0233,811],[.0209,883],[.0141,931],[.0189,841],
  [.0227,955],[.0261,885],[.0175,882],[.0216,823],[.0195,927],[.0157,843],[.0239,866],[.0204,906],[.0185,865],[.0230,872],
  [.0201,911],[.0164,889],[.0246,858],[.0219,842],[.0178,920],[.0137,901],[.0235,896],[.0193,876],[.0170,838],[.0252,880],
  [.0211,875],[.0148,866],[.0227,931],[.0188,888],[.0207,829],[.0160,958],[.0241,917],[.0197,846],[.0174,894],[.0223,880],
  [.0185,871],[.0215,907],[.0162,847],[.0234,868],[.0199,899],[.0176,824],[.0248,895],[.0205,858],[.0145,877],[.0229,845],
  [.0192,938],[.0167,878],[.0220,890],[.0183,852],[.0258,910],[.0210,864],[.0154,899],[.0238,874],[.0196,861],[.0171,903]
];

// Axis breaks and their printed labels
const qalyTicks = [-0.01, 0, 0.01, 0.02, 0.03, 0.04];
const qalyTickLabels = ['\u22120.01', '0.00', '0.01', '0.02', '0.03', '0.04'];
const costTicks = [0, 500, 1000];
const costTickLabels = ['\u20ac 0', '\u20ac 500', '\u20ac 1,000'];

// Share of draws in each corner of the plane
const cornerLabels = ['0%', '100%', '%', '%'];

const allDraws = [].concat(drawsFringe, drawsShoulders, drawsRing, drawsHighCost, draws950, draws900,
                           draws850, draws800, draws750, drawsLowCost, drawsCoreDense, drawsInner);

function labelFor(values, labels) {
  return function (v) {
    for (let i = 0; i < values.length; i++) {
      if (Math.abs(values[i] - v) < 1e-9) return labels[i];
    }
    return '';
  };
}

const FONT = "'Liberation Sans', Arial, Helvetica, sans-serif";
const chart = echarts.init(document.getElementById('plane'), null, { renderer: 'canvas' });

chart.setOption({
  animation: false,
  backgroundColor: '#ffffff',
  textStyle: { fontFamily: FONT },
  grid: { left: 126, right: 0, top: 9, bottom: 66, containLabel: false },
  xAxis: {
    type: 'value',
    min: -0.012247,
    max: 0.047593,
    name: 'Incremental QALYs (Wait List vs. Guided Self\u2212Help CBT\u2212E)',
    nameLocation: 'middle',
    nameGap: 35,
    nameTextStyle: { fontFamily: FONT, fontSize: 25.5, color: '#000000' },
    axisLine: { show: false, onZero: false },
    axisTick: { show: true, length: 6, customValues: qalyTicks,
                lineStyle: { color: '#333333', width: 1.6 } },
    axisLabel: { show: true, margin: 12, customValues: qalyTicks,
                 formatter: labelFor(qalyTicks, qalyTickLabels),
                 fontFamily: FONT, fontSize: 20.5, color: '#4d4d4d' },
    splitLine: { show: true, lineStyle: { color: '#ebebeb', width: 2 } },
    minorSplitLine: { show: false }
  },
  yAxis: {
    type: 'value',
    min: -62.7,
    max: 1413,
    name: 'Incremental healthcare costs',
    nameLocation: 'middle',
    nameRotate: 90,
    nameGap: 89,
    nameTextStyle: { fontFamily: FONT, fontSize: 25.5, color: '#000000' },
    axisLine: { show: false, onZero: false },
    axisTick: { show: true, length: 6, customValues: costTicks,
                lineStyle: { color: '#333333', width: 1.6 } },
    axisLabel: { show: true, margin: 9, customValues: costTicks,
                 formatter: labelFor(costTicks, costTickLabels),
                 fontFamily: FONT, fontSize: 20.5, color: '#4d4d4d' },
    splitLine: { show: true, lineStyle: { color: '#ebebeb', width: 2 } }
  },
  series: [{
    type: 'scatter',
    data: allDraws,
    symbol: 'circle',
    symbolSize: 6,
    silent: true,
    large: false,
    progressive: 0,
    itemStyle: {
      color: 'rgba(158,203,216,0.45)',
      borderColor: 'rgba(128,183,202,0.5)',
      borderWidth: 0.7
    },
    emphasis: { disabled: true },
    markLine: {
      silent: true,
      symbol: 'none',
      animation: false,
      label: { show: false },
      lineStyle: { color: '#666666', width: 2.7, type: 'solid' },
      emphasis: { disabled: true },
      data: [{ xAxis: 0 }, { yAxis: 0 }]
    }
  }],
  graphic: [
    { type: 'text', silent: true, z: 10,
      style: { text: cornerLabels[0], x: 129, y: 12, textAlign: 'left', textVerticalAlign: 'top',
               font: '23px ' + FONT, fill: '#000000' } },
    { type: 'text', silent: true, z: 10,
      style: { text: cornerLabels[1], x: 918, y: 12, textAlign: 'right', textVerticalAlign: 'top',
               font: '23px ' + FONT, fill: '#000000' } },
    { type: 'text', silent: true, z: 10,
      style: { text: cornerLabels[2], x: 128.5, y: 744, textAlign: 'left', textVerticalAlign: 'top',
               font: '23px ' + FONT, fill: '#000000' } },
    { type: 'text', silent: true, z: 10,
      style: { text: cornerLabels[3], x: 919, y: 744, textAlign: 'right', textVerticalAlign: 'top',
               font: '23px ' + FONT, fill: '#000000' } }
  ]
});
</script>
</body>
</html>
